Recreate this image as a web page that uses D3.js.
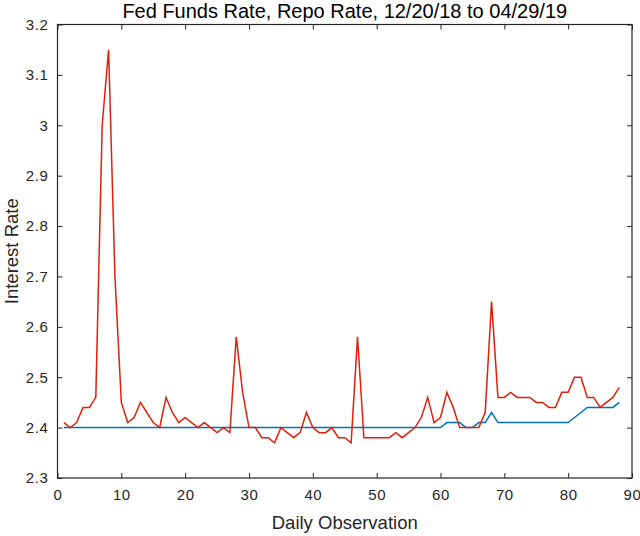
<!DOCTYPE html>
<html>
<head>
<meta charset="utf-8">
<script src="https://cdn.jsdelivr.net/npm/d3@7"></script>
<style>
    body { margin: 0; background: #fff; }
    svg { display: block; font-family: "Liberation Sans", Arial, sans-serif; }
    .tick text { fill: #262626; font-size: 15px; letter-spacing: 0.6px; }
</style>
</head>
<body>
<div id="chart"></div>
<script>
// daily observation index, 1..88
const days = d3.range(1, 89);

// repo rate (red)
const repoRate = [
    2.41, 2.40, 2.41, 2.44, 2.44, 2.46, 3.00, 3.15, 2.70, 2.45,
    2.41, 2.42, 2.45, 2.43, 2.41, 2.40, 2.46, 2.43, 2.41, 2.42,
    2.41, 2.40, 2.41, 2.40, 2.39, 2.40, 2.39, 2.58, 2.47, 2.40,
    2.40, 2.38, 2.38, 2.37, 2.40, 2.39, 2.38, 2.39, 2.43, 2.40,
    2.39, 2.39, 2.40, 2.38, 2.38, 2.37, 2.58, 2.38, 2.38, 2.38,
    2.38, 2.38, 2.39, 2.38, 2.39, 2.40, 2.42, 2.46, 2.41, 2.42,
    2.47, 2.44, 2.40, 2.40, 2.40, 2.40, 2.43, 2.65, 2.46, 2.46,
    2.47, 2.46, 2.46, 2.46, 2.45, 2.45, 2.44, 2.44, 2.47, 2.47,
    2.50, 2.50, 2.46, 2.46, 2.44, 2.45, 2.46, 2.48
];

// fed funds rate (blue)
const fedFunds = [
    2.40, 2.40, 2.40, 2.40, 2.40, 2.40, 2.40, 2.40, 2.40, 2.40,
    2.40, 2.40, 2.40, 2.40, 2.40, 2.40, 2.40, 2.40, 2.40, 2.40,
    2.40, 2.40, 2.40, 2.40, 2.40, 2.40, 2.40, 2.40, 2.40, 2.40,
    2.40, 2.40, 2.40, 2.40, 2.40, 2.40, 2.40, 2.40, 2.40, 2.40,
    2.40, 2.40, 2.40, 2.40, 2.40, 2.40, 2.40, 2.40, 2.40, 2.40,
    2.40, 2.40, 2.40, 2.40, 2.40, 2.40, 2.40, 2.40, 2.40, 2.40,
    2.41, 2.41, 2.41, 2.40, 2.40, 2.41, 2.41, 2.43, 2.41, 2.41,
    2.41, 2.41, 2.41, 2.41, 2.41, 2.41, 2.41, 2.41, 2.41, 2.41,
    2.42, 2.43, 2.44, 2.44, 2.44, 2.44, 2.44, 2.45
];

const xTicks = [0, 10, 20, 30, 40, 50, 60, 70, 80, 90];
const yTicks = [2.3, 2.4, 2.5, 2.6, 2.7, 2.8, 2.9, 3.0, 3.1, 3.2];

const width = 640, height = 536;
const margin = { top: 24.5, right: 8, bottom: 58, left: 57.5 };
const innerW = width - margin.left - margin.right;
const innerH = height - margin.top - margin.bottom;

const svg = d3.select("#chart").append("svg")
    .attr("width", width)
    .attr("height", height);

const g = svg.append("g")
    .attr("transform", `translate(${margin.left}, ${margin.top})`);

const x = d3.scaleLinear().domain([0, 90]).range([0, innerW]);
const y = d3.scaleLinear().domain([2.3, 3.2]).range([innerH, 0]);

const tickLen = 5;
const fmtY = d => (d === 3 ? "3" : d3.format(".1f")(d));

// bottom and left axes with labels, ticks pointing inward
g.append("g")
    .attr("transform", `translate(0, ${innerH})`)
    .call(d3.axisBottom(x).tickValues(xTicks).tickSizeInner(-tickLen).tickSizeOuter(0).tickPadding(11))
    .call(a => a.select(".domain").remove());

g.append("g")
    .call(d3.axisLeft(y).tickValues(yTicks).tickFormat(fmtY).tickSizeInner(-tickLen).tickSizeOuter(0).tickPadding(9))
    .call(a => a.select(".domain").remove());

// top and right ticks (no labels)
g.append("g")
    .call(d3.axisTop(x).tickValues(xTicks).tickSizeInner(-tickLen).tickSizeOuter(0).tickFormat(""))
    .call(a => a.select(".domain").remove());

g.append("g")
    .attr("transform", `translate(${innerW}, 0)`)
    .call(d3.axisRight(y).tickValues(yTicks).tickSizeInner(-tickLen).tickSizeOuter(0).tickFormat(""))
    .call(a => a.select(".domain").remove());

g.selectAll(".tick line").attr("stroke", "#262626");

// box
g.append("rect")
    .attr("width", innerW)
    .attr("height", innerH)
    .attr("fill", "none")
    .attr("stroke", "#262626")
    .attr("stroke-width", 1.2);

// lines
const line = d3.line()
    .x(d => x(d[0]))
    .y(d => y(d[1]));

g.append("path")
    .datum(days.map((d, i) => [d, fedFunds[i]]))
    .attr("fill", "none")
    .attr("stroke", "#0072bd")
    .attr("stroke-width", 1.5)
    .attr("d", line);

g.append("path")
    .datum(days.map((d, i) => [d, repoRate[i]]))
    .attr("fill", "none")
    .attr("stroke", "#de200c")
    .attr("stroke-width", 1.5)
    .attr("d", line);

// title and axis labels
svg.append("text")
    .attr("x", margin.left + innerW / 2)
    .attr("y", 18)
    .attr("text-anchor", "middle")
    .attr("fill", "#000")
    .style("font-size", "20px")
    .text("Fed Funds Rate, Repo Rate, 12/20/18 to 04/29/19");

svg.append("text")
    .attr("x", margin.left + innerW / 2)
    .attr("y", 529)
    .attr("text-anchor", "middle")
    .attr("fill", "#262626")
    .style("font-size", "18.5px")
    .text("Daily Observation");

svg.append("text")
    .attr("transform", `translate(18, ${margin.top + innerH / 2}) rotate(-90)`)
    .attr("text-anchor", "middle")
    .attr("fill", "#262626")
    .style("font-size", "18.5px")
    .text("Interest Rate");
</script>
</body>
</html>
